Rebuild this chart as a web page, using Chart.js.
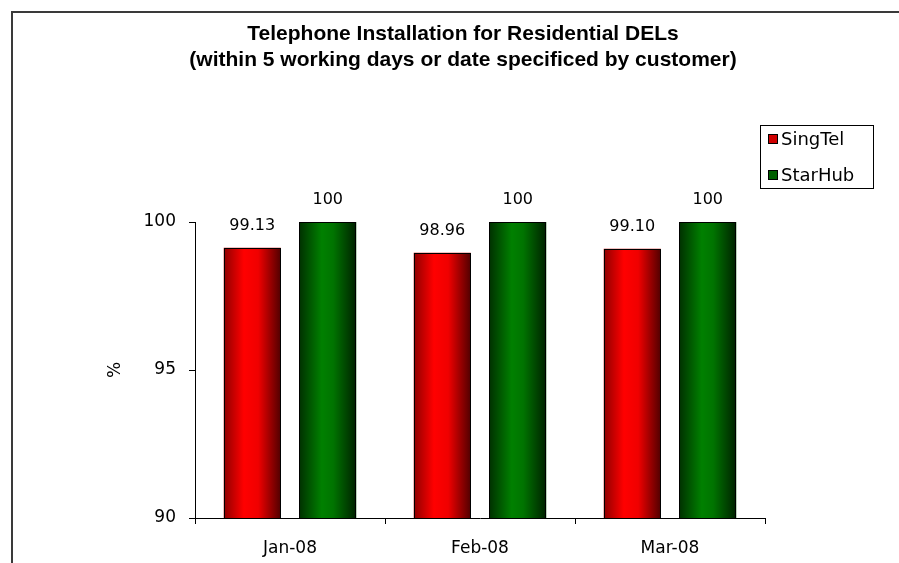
<!DOCTYPE html>
<html>
<head>
<meta charset="utf-8">
<script src="https://cdn.jsdelivr.net/npm/chart.js@4/dist/chart.umd.min.js"></script>
<style>
html,body{margin:0;padding:0;background:#fff}
#wrap{width:899px;height:563px}
</style>
</head>
<body>
<div id="wrap"><canvas id="chart" width="899" height="563"></canvas></div>
<script>

let months = ["Jan-08","Feb-08","Mar-08"]
let singtel = [99.13,98.96,99.10]
let starhub = [100,100,100]
let yTicks = [90,95,100]
let titleLines = ["Telephone Installation for Residential DELs","(within 5 working days or date specificed by customer)"]

let FONT = "'DejaVu Sans', sans-serif"
let TFONT = "'Liberation Sans', Arial, sans-serif"

function fmt(v){
return v === 100 ? "100" : v.toFixed(2)
}

let decor = {
id:"decor",
afterDatasetsDraw(chart){
let ctx = chart.ctx
let bottom = chart.chartArea.bottom
ctx.save()
chart.data.datasets.forEach((ds,i)=>{
let meta = chart.getDatasetMeta(i)
meta.data.forEach((bar,j)=>{
let l = Math.round(bar.x - bar.width/2)
let w = Math.round(bar.width)
let top = Math.round(bar.y)
let h = Math.min(bar.base,bottom) - top
let g = ctx.createLinearGradient(l,0,l+w,0)
ds.shade.forEach(s=>g.addColorStop(s[0],s[1]))
ctx.fillStyle = g
ctx.fillRect(l,top,w,h)
ctx.strokeStyle = "#000"
ctx.lineWidth = 1
ctx.strokeRect(l+0.5,top+0.5,w-1,h)
ctx.fillStyle = "#000"
ctx.font = "16px " + FONT
ctx.textAlign = "center"
ctx.textBaseline = "middle"
ctx.fillText(fmt(ds.data[j]),bar.x,bar.y-22)
})
})
ctx.restore()
},
afterDraw(chart){
let ctx = chart.ctx
ctx.save()
// outer frame
ctx.strokeStyle = "#3a3a3a"
ctx.lineWidth = 2
ctx.beginPath()
ctx.moveTo(12,563)
ctx.lineTo(12,12)
ctx.lineTo(899,12)
ctx.stroke()

// title
ctx.fillStyle = "#000"
ctx.font = "bold 21px " + TFONT
ctx.textAlign = "center"
ctx.textBaseline = "middle"
titleLines.forEach((t,i)=>ctx.fillText(t,463,34+i*26))

// legend
ctx.lineWidth = 1
ctx.strokeStyle = "#000"
ctx.strokeRect(760.5,125.5,113,63)
ctx.font = "18px " + FONT
ctx.textAlign = "left"
chart.data.datasets.forEach((ds,i)=>{
let y = 139 + i*36
ctx.fillStyle = ds.backgroundColor
ctx.fillRect(768,y-5,10,10)
ctx.strokeRect(768.5,y-4.5,9,9)
ctx.fillStyle = "#000"
ctx.fillText(ds.label,781,y+1)
})
ctx.restore()
}
}

new Chart(document.getElementById("chart"),{

type:"bar",

data:{
labels:months,
datasets:[
{label:"SingTel",data:singtel,backgroundColor:"#d00000",borderWidth:0,
categoryPercentage:0.795,barPercentage:0.755,
shade:[[0,"#900000"],[0.35,"#ff0000"],[0.6,"#f00000"],[1,"#500000"]]},
{label:"StarHub",data:starhub,backgroundColor:"#006000",borderWidth:0,
categoryPercentage:0.795,barPercentage:0.755,
shade:[[0,"#003000"],[0.4,"#008000"],[0.6,"#007400"],[1,"#002200"]]}
]
},

options:{
responsive:false,
animation:false,
events:[],
layout:{padding:{left:105,right:134,top:222,bottom:0}},
plugins:{legend:{display:false},title:{display:false},tooltip:{enabled:false}},
scales:{
x:{
grid:{drawOnChartArea:false,drawTicks:true,tickLength:6,color:"#000",offset:true},
border:{display:true,color:"#000",width:1},
ticks:{color:"#000",font:{family:FONT,size:17},padding:14},
afterFit(s){s.height = 45}
},
y:{
min:90,
max:100,
afterBuildTicks(s){s.ticks = yTicks.map(v=>({value:v}))},
grid:{drawOnChartArea:false,drawTicks:true,tickLength:6,color:"#000"},
border:{display:true,color:"#000",width:1},
ticks:{color:"#000",font:{family:FONT,size:17},padding:13},
title:{display:true,text:"%",color:"#000",font:{family:FONT,size:17},padding:0},
afterFit(s){s.width = 90}
}
}
},

plugins:[decor]

})

</script>
</body>
</html>
